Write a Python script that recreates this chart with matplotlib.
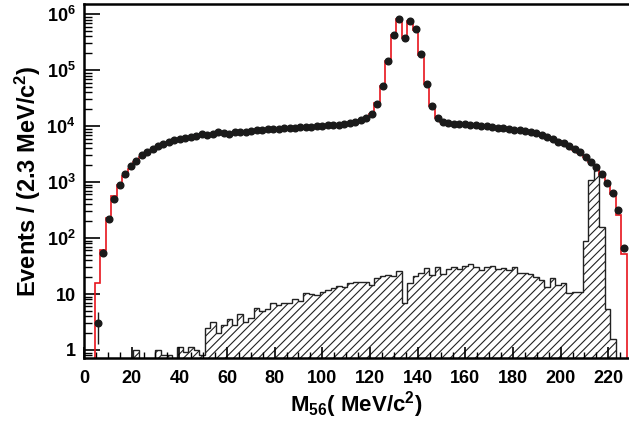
import numpy as np
import matplotlib
matplotlib.use("Agg")
import matplotlib.pyplot as plt
from matplotlib.ticker import FixedLocator, MultipleLocator, LogLocator, NullFormatter

# bin width 2.3 MeV/c^2, 99 bins starting at 0
bin_width = 2.3
n_bins = 99

# data points (events per bin)
data = [0, 0, 3, 55, 215, 500, 890, 1390, 1900, 2400,
        3000, 3400, 3880, 4380, 4800, 5250, 5540, 5770, 6150, 6330,
        6680, 7080, 6800, 7280, 7700, 7500, 7300, 7900, 7900, 7800,
        8200, 8480, 8500, 8850, 8900, 8900, 9100, 9200, 9300, 9600,
        9700, 9700, 10000, 10100, 10400, 10400, 10600, 10900, 11300, 11700,
        12600, 13900, 16400, 25000, 51500, 146000, 420000, 835000, 378000, 750000,
        540000, 194000, 57000, 22800, 13700, 11900, 11300, 11000, 10900, 10700,
        10400, 10300, 10100, 9900, 9600, 9330, 9100, 8900, 8600, 8400,
        8150, 7800, 7400, 6900, 6400, 5770, 5300, 4900, 4450, 3880,
        3390, 2830, 2310, 1880, 1400, 970, 635, 315, 67]

# fit / MC total (red line)
model = [0, 0, 16, 61, 230, 560, 870, 1280, 1690, 2240,
         2800, 3250, 3750, 4200, 4650, 5050, 5400, 5700, 6000, 6250,
         6500, 6700, 6850, 7000, 7200, 7350, 7450, 7600, 7750, 7850,
         8000, 8150, 8300, 8450, 8600, 8700, 8850, 9000, 9150, 9300,
         9450, 9600, 9750, 9900, 10100, 10250, 10450, 10700, 11000, 11500,
         12300, 13600, 16500, 26000, 52000, 145000, 430000, 830000, 380000, 740000,
         530000, 190000, 57000, 23000, 13800, 12000, 11300, 11000, 10800, 10600,
         10400, 10200, 10000, 9800, 9550, 9300, 9050, 8800, 8500, 8250,
         7950, 7600, 7250, 6850, 6400, 5900, 5400, 4900, 4350, 3800,
         3300, 2750, 2250, 1800, 1350, 930, 620, 257, 52]

# background (hatched)
background = [0, 0, 0, 0, 0, 0, 0, 0, 0, 1.0,
              0, 0, 0, 1.0, 0.8, 0.8, 0, 1.15, 0.93, 1.15,
              1.0, 0.8, 2.44, 3.1, 2.04, 2.8, 3.6, 2.8, 4.4, 3.2,
              3.7, 5.7, 5.0, 5.3, 6.8, 6.3, 7.0, 7.0, 8.1, 7.6,
              10.6, 10.0, 9.6, 11.0, 11.8, 12.6, 13.9, 13.5, 15.9, 16.6,
              16.6, 16.2, 14.7, 19.5, 21, 21.8, 21, 26, 6.8, 15.9,
              21, 24, 28.8, 21.8, 30, 22.6, 27.5, 30.8, 28, 31.6,
              34.3, 30, 26.8, 30.8, 31.6, 27.5, 28.8, 26.8, 30, 24,
              23.4, 22.6, 19.8, 17.8, 13.5, 19.1, 14.5, 15.9, 10.3, 11,
              11, 88, 1090, 1630, 157, 5.3, 1.6, 0, 0]

x_ticks = [0, 20, 40, 60, 80, 100, 120, 140, 160, 180, 200, 220]
y_ticks = [1, 10, 1e2, 1e3, 1e4, 1e5, 1e6]
y_tick_labels = ["1", "10", r"$10^{2}$", r"$10^{3}$", r"$10^{4}$", r"$10^{5}$", r"$10^{6}$"]

plt.rcParams["font.family"] = ["Liberation Sans", "DejaVu Sans"]
plt.rcParams["font.weight"] = "bold"
plt.rcParams["mathtext.fontset"] = "custom"
plt.rcParams["mathtext.rm"] = "Liberation Sans:bold"
plt.rcParams["mathtext.bf"] = "Liberation Sans:bold"
plt.rcParams["mathtext.it"] = "Liberation Sans:bold:italic"
plt.rcParams["hatch.linewidth"] = 0.8

edges = np.arange(n_bins + 1) * bin_width
centers = edges[:-1] + bin_width / 2
data = np.array(data, dtype=float)
model = np.array(model, dtype=float)
background = np.array(background, dtype=float)

floor = 1e-3  # stand-in for empty bins on the log axis

fig = plt.figure(figsize=(6.29, 4.22), dpi=100)
ax = fig.add_axes([84 / 629, 63.7 / 422, 545 / 629, 354.8 / 422])

# hatched background histogram
ax.stairs(np.where(background > 0, background, floor), edges, baseline=floor,
          fill=True, facecolor="none", edgecolor="#222222", hatch="////", lw=1.0, zorder=1)

# red total histogram
ax.stairs(np.where(model > 0, model, floor), edges, baseline=floor,
          color="#e8141c", lw=1.2, zorder=2)

# data points with poisson errors
mask = data > 0
ax.errorbar(centers[mask], data[mask], yerr=np.sqrt(data[mask]), fmt="o",
            color="#1a1a1a", ms=4.8, elinewidth=1.0, capsize=0, zorder=3)

ax.set_yscale("log")
ax.set_xlim(0, 228.7)
ax.set_ylim(0.71, 1.55e6)

ax.xaxis.set_major_locator(FixedLocator(x_ticks))
ax.xaxis.set_minor_locator(MultipleLocator(5))
ax.yaxis.set_major_locator(FixedLocator(y_ticks))
ax.set_yticklabels(y_tick_labels)
ax.yaxis.set_minor_locator(LogLocator(base=10, subs=np.arange(2, 10)))
ax.yaxis.set_minor_formatter(NullFormatter())

ax.tick_params(axis="both", which="major", direction="in", width=1.2, labelsize=13)
ax.tick_params(axis="x", which="major", length=8, pad=8.5)
ax.tick_params(axis="x", which="minor", direction="in", length=4, width=1.0)
ax.tick_params(axis="y", which="major", length=11.5, pad=6)
ax.tick_params(axis="y", which="minor", direction="in", length=5.8, width=1.0)

for s in ["left", "bottom", "top"]:
    ax.spines[s].set_linewidth(1.8)
ax.spines["right"].set_visible(False)

ax.set_xlabel(r"M$_{56}$( MeV/c$^{2}$)", fontsize=16, fontweight="bold")
ax.set_ylabel(r"Events / (2.3 MeV/c$^{2}$)", fontsize=17, fontweight="bold")
ax.yaxis.set_label_coords(-0.076, 0.5)
ax.xaxis.set_label_coords(0.5, -0.086)

fig.savefig("out.png", dpi=100)
